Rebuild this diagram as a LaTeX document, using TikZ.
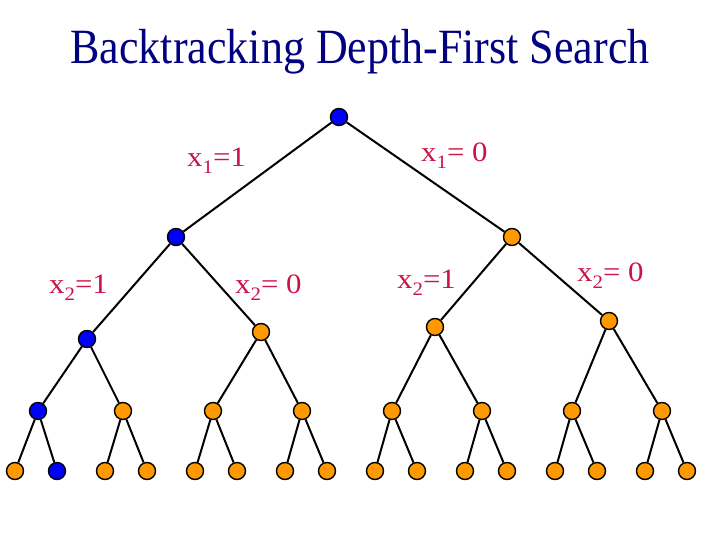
\documentclass[tikz,border=0pt]{standalone}
\usepackage{fontspec}
\setmainfont{Liberation Serif}
\definecolor{titlecol}{RGB}{0,0,128}
\definecolor{labcol}{RGB}{200,20,70}
\definecolor{nblue}{RGB}{0,0,255}
\definecolor{norange}{RGB}{255,153,0}
\newcommand{\mysub}[1]{\raisebox{-0.25em}{\fontsize{19}{19}\selectfont #1}}
\newcommand{\widelab}[1]{\scalebox{1.1}[1]{#1}}
\tikzset{
  vis/.style={circle,draw=black,line width=1.4pt,fill=nblue,minimum size=17pt,inner sep=0pt},
  unv/.style={circle,draw=black,line width=1.4pt,fill=norange,minimum size=17pt,inner sep=0pt},
  edge/.style={line width=2pt,black},
  lab/.style={anchor=base west,text=labcol,font=\fontsize{28}{28}\selectfont,inner sep=0pt},
}
\begin{document}
\begin{tikzpicture}[x=1pt,y=-1pt]
\useasboundingbox (0,0) rectangle (720,540);
\node[text=titlecol,font=\fontsize{44}{44}\selectfont,inner sep=0pt] (title) at (360,52) {\scalebox{1}[1.12]{Backtracking Depth-First Search}};
% level 0
\node[vis] (r) at (339,117) {};
% level 1
\node[vis] (a) at (176,237) {};
\node[unv] (b) at (512,237) {};
% level 2
\node[vis] (aa) at (87,339) {};
\node[unv] (ab) at (261,332) {};
\node[unv] (ba) at (435,327) {};
\node[unv] (bb) at (609,321) {};
% level 3
\node[vis] (c1) at (38,411) {};
\node[unv] (c2) at (123,411) {};
\node[unv] (c3) at (213,411) {};
\node[unv] (c4) at (302,411) {};
\node[unv] (c5) at (392,411) {};
\node[unv] (c6) at (482,411) {};
\node[unv] (c7) at (572,411) {};
\node[unv] (c8) at (662,411) {};
% level 4
\node[unv] (d1) at (15,471) {};
\node[vis] (d2) at (57,471) {};
\node[unv] (d3) at (105,471) {};
\node[unv] (d4) at (147,471) {};
\node[unv] (d5) at (195,471) {};
\node[unv] (d6) at (237,471) {};
\node[unv] (d7) at (285,471) {};
\node[unv] (d8) at (327,471) {};
\node[unv] (d9) at (375,471) {};
\node[unv] (d10) at (417,471) {};
\node[unv] (d11) at (465,471) {};
\node[unv] (d12) at (507,471) {};
\node[unv] (d13) at (555,471) {};
\node[unv] (d14) at (597,471) {};
\node[unv] (d15) at (645,471) {};
\node[unv] (d16) at (687,471) {};
% edges
\draw[edge] (r) -- (a);
\draw[edge] (r) -- (b);
\draw[edge] (a) -- (aa);
\draw[edge] (a) -- (ab);
\draw[edge] (b) -- (ba);
\draw[edge] (b) -- (bb);
\draw[edge] (aa) -- (c1);
\draw[edge] (aa) -- (c2);
\draw[edge] (ab) -- (c3);
\draw[edge] (ab) -- (c4);
\draw[edge] (ba) -- (c5);
\draw[edge] (ba) -- (c6);
\draw[edge] (bb) -- (c7);
\draw[edge] (bb) -- (c8);
\draw[edge] (c1) -- (d1);
\draw[edge] (c1) -- (d2);
\draw[edge] (c2) -- (d3);
\draw[edge] (c2) -- (d4);
\draw[edge] (c3) -- (d5);
\draw[edge] (c3) -- (d6);
\draw[edge] (c4) -- (d7);
\draw[edge] (c4) -- (d8);
\draw[edge] (c5) -- (d9);
\draw[edge] (c5) -- (d10);
\draw[edge] (c6) -- (d11);
\draw[edge] (c6) -- (d12);
\draw[edge] (c7) -- (d13);
\draw[edge] (c7) -- (d14);
\draw[edge] (c8) -- (d15);
\draw[edge] (c8) -- (d16);
% labels
\node[lab] (l1) at (187,167) {\widelab{x\mysub{1}=1}};
\node[lab] (l2) at (421,162) {\widelab{x\mysub{1}= 0}};
\node[lab] (l3) at (49,293) {\widelab{x\mysub{2}=1}};
\node[lab] (l4) at (235,293) {\widelab{x\mysub{2}= 0}};
\node[lab] (l5) at (397,288) {\widelab{x\mysub{2}=1}};
\node[lab] (l6) at (577,281) {\widelab{x\mysub{2}= 0}};
\end{tikzpicture}
\end{document}
